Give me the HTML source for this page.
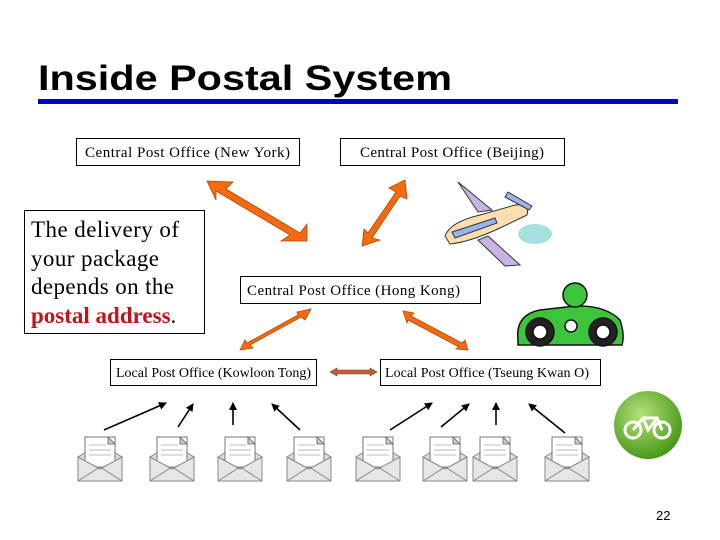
<!DOCTYPE html>
<html><head><style>
body{margin:0;background:#fff}
svg{display:block}
.s{font-family:"Liberation Serif",serif;font-size:15px}
</style></head><body>
<svg width="720" height="540" xmlns="http://www.w3.org/2000/svg">
<defs>
<marker id="ah" markerWidth="8" markerHeight="8" refX="7" refY="4" orient="auto" markerUnits="userSpaceOnUse"><path d="M0,0 L8,4 L0,8 z" fill="#000"/></marker>
<radialGradient id="g" cx="40%" cy="35%" r="65%"><stop offset="0" stop-color="#b5e07a"/><stop offset="1" stop-color="#4a9a1a"/></radialGradient>
<g id="env"><path d="M0,20 L22,6 L44,20 L44,44 L0,44 z" fill="#ddd" stroke="#888"/><rect x="7" y="0" width="30" height="30" fill="#fff" stroke="#777"/><path d="M30,0 L37,7 L30,7 z" fill="#ccc" stroke="#777"/><line x1="11" y1="8" x2="28" y2="8" stroke="#bbb"/><line x1="11" y1="13" x2="33" y2="13" stroke="#bbb"/><line x1="11" y1="18" x2="33" y2="18" stroke="#bbb"/><path d="M0,20 L22,32 L44,20 L44,44 L0,44z" fill="#e6e6e6" stroke="#888"/><path d="M0,44 L22,30 L44,44" fill="none" stroke="#888"/></g>
</defs>
<text x="38" y="90" font-family="Liberation Sans,sans-serif" font-weight="bold" font-size="35" textLength="414" lengthAdjust="spacingAndGlyphs">Inside Postal System</text>
<rect x="38" y="99" width="640" height="5" fill="#0000cc"/>

<rect x="76.5" y="138.5" width="223" height="27" fill="none" stroke="#000"/>
<text class="s" x="85" y="157" textLength="205">Central Post Office (New York)</text>
<rect x="340.5" y="138.5" width="224" height="27" fill="none" stroke="#000"/>
<text class="s" x="360" y="157" textLength="184">Central Post Office (Beijing)</text>
<rect x="240.5" y="276.5" width="240" height="27" fill="none" stroke="#000"/>
<text class="s" x="247" y="295" textLength="213">Central Post Office (Hong Kong)</text>
<rect x="110.5" y="359.5" width="206" height="26" fill="none" stroke="#000"/>
<text class="s" x="116" y="377" style="font-size:14px" textLength="195">Local Post Office (Kowloon Tong)</text>
<rect x="380.5" y="359.5" width="220" height="26" fill="none" stroke="#000"/>
<text class="s" x="385" y="377" style="font-size:14px" textLength="204">Local Post Office (Tseung Kwan O)</text>

<rect x="24.5" y="210.5" width="180" height="123" fill="none" stroke="#000"/>
<g font-family="Liberation Serif,serif" font-size="23">
<text x="31" y="237" textLength="148">The delivery of</text>
<text x="31" y="266" textLength="128">your package</text>
<text x="31" y="294" textLength="143">depends on the</text>
<text x="31" y="323"><tspan fill="#c0141c" font-weight="bold">postal address</tspan>.</text></g>

<g fill="#f26b10" stroke="#b04a05" stroke-width="0.8">
<path d="M207,181 L233,182 L226,189 L300,233 L307,224 L307,241 L281,241 L290,235 L216,191 L216,200 Z"/>
<path d="M405,180 L407,199 L400,196 L372,238 L380,240 L362,246 L364,229 L368,233 L396,192 L389,188 Z"/>
<path d="M311,309 L305,320 L301,317 L250,345 L253,348 L240,350 L245,340 L247,343 L298,315 L297,312 Z" />
<path d="M403,311 L414,313 L411,316 L462,343 L465,340 L468,350 L456,349 L459,347 L408,320 L407,323 Z"/>
</g>
<path d="M330,372 L337,368 L337,370 L370,370 L370,368 L377,372 L370,376 L370,374 L337,374 L337,376 Z" fill="#c0603a" stroke="#804020" stroke-width="0.6"/>

<g stroke="#000" stroke-width="1.6" marker-end="url(#ah)">
<line x1="104" y1="430" x2="166" y2="403"/><line x1="178" y1="427" x2="193" y2="404"/>
<line x1="233" y1="425" x2="233" y2="403"/><line x1="300" y1="430" x2="272" y2="404"/>
<line x1="390" y1="430" x2="432" y2="403"/><line x1="441" y1="427" x2="469" y2="404"/>
<line x1="496" y1="425" x2="496" y2="403"/><line x1="565" y1="433" x2="529" y2="404"/>
</g>
<use href="#env" x="78" y="437"/><use href="#env" x="150" y="437"/><use href="#env" x="218" y="437"/><use href="#env" x="287" y="437"/>
<use href="#env" x="356" y="437"/><use href="#env" x="423" y="437"/><use href="#env" x="473" y="437"/><use href="#env" x="545" y="437"/>

<!-- plane -->
<g stroke="#333" stroke-width="1">
<path d="M458,182 L478,212 L492,210 Z" fill="#c9b3e6"/>
<path d="M488,236 L520,265 L505,266 L478,240 Z" fill="#c9b3e6"/>
<path d="M445,236 Q450,222 480,215 L515,205 Q530,203 527,215 L500,228 Q470,242 450,244 Z" fill="#f9dfb0"/>
<path d="M452,232 L495,218 L497,223 L455,238 Z" fill="#9bb2ea"/>
<path d="M508,192 L532,206 L529,210 L505,197 Z" fill="#9bb2ea"/>
</g>
<ellipse cx="535" cy="234" rx="17" ry="10" fill="#a8e0e0"/>
<!-- car -->
<g stroke="#111" stroke-width="1.5">
<path d="M518,340 Q515,315 540,310 L575,306 Q605,305 620,320 Q625,335 622,345 L518,345 Z" fill="#3ec43a"/>
<circle cx="575" cy="295" r="12" fill="#3ec43a"/>
<circle cx="540" cy="332" r="14" fill="#222"/><circle cx="540" cy="332" r="7" fill="#fff"/>
<circle cx="603" cy="332" r="14" fill="#222"/><circle cx="603" cy="332" r="7" fill="#fff"/>
<circle cx="571" cy="326" r="6" fill="#fff"/>
</g>
<!-- bike -->
<circle cx="648" cy="425" r="34" fill="url(#g)"/>
<g stroke="#fff" stroke-width="3" fill="none"><circle cx="633" cy="430" r="8"/><circle cx="662" cy="430" r="8"/><path d="M633,430 L643,418 L657,418 L662,430 M643,418 L648,430 L657,418"/></g>

<text x="656" y="520" font-family="Liberation Sans,sans-serif" font-size="13">22</text>
</svg>
</body></html>
